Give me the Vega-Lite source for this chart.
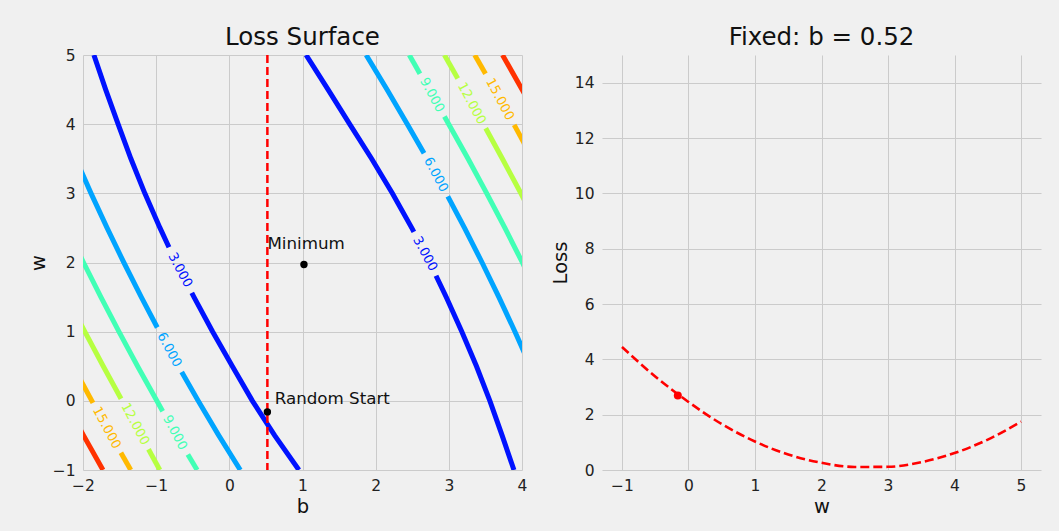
{
  "$schema": "https://vega.github.io/schema/vega-lite/v6.json",
  "background": "#f0f0f0",
  "padding": {"left": 28, "top": 24, "right": 20, "bottom": 16},
  "config": {
    "font": "DejaVu Sans",
    "view": {"stroke": null, "fill": "#f0f0f0"},
    "axis": {
      "grid": true, "gridColor": "#cbcbcb", "gridWidth": 1, "domain": false, "ticks": false,
      "labelFontSize": 15.5, "labelColor": "#222222", "labelPadding": 8, "labelFlush": false,
      "titleFontSize": 19.5, "titleFontWeight": "normal", "titleColor": "#111111", "titlePadding": 4
    },
    "title": {"fontSize": 24.5, "fontWeight": "normal", "color": "#111111"},
    "concat": {"spacing": 23}
  },
  "datasets": {
    "contours": [
      {"level": 3, "seg": "3a", "w": 5, "b": -1.851}, {"level": 3, "seg": "3a", "w": 4.5, "b": -1.690}, {"level": 3, "seg": "3a", "w": 4, "b": -1.520}, {"level": 3, "seg": "3a", "w": 3.5, "b": -1.345}, {"level": 3, "seg": "3a", "w": 3, "b": -1.155}, {"level": 3, "seg": "3a", "w": 2.5, "b": -0.948}, {"level": 3, "seg": "3a", "w": 2.22, "b": -0.825},
      {"level": 3, "seg": "3b", "w": 1.56, "b": -0.513}, {"level": 3, "seg": "3b", "w": 1.5, "b": -0.483}, {"level": 3, "seg": "3b", "w": 1, "b": -0.228}, {"level": 3, "seg": "3b", "w": 0.5, "b": 0.041}, {"level": 3, "seg": "3b", "w": 0, "b": 0.315}, {"level": 3, "seg": "3b", "w": -0.5, "b": 0.619}, {"level": 3, "seg": "3b", "w": -1, "b": 0.951},
      {"level": 3, "seg": "3c", "w": 5, "b": 1.049}, {"level": 3, "seg": "3c", "w": 4.5, "b": 1.350}, {"level": 3, "seg": "3c", "w": 4, "b": 1.645}, {"level": 3, "seg": "3c", "w": 3.5, "b": 1.945}, {"level": 3, "seg": "3c", "w": 3, "b": 2.228}, {"level": 3, "seg": "3c", "w": 2.5, "b": 2.493}, {"level": 3, "seg": "3c", "w": 2.443, "b": 2.522},
      {"level": 3, "seg": "3d", "w": 1.808, "b": 2.825}, {"level": 3, "seg": "3d", "w": 1.5, "b": 2.964}, {"level": 3, "seg": "3d", "w": 1, "b": 3.178}, {"level": 3, "seg": "3d", "w": 0.5, "b": 3.378}, {"level": 3, "seg": "3d", "w": 0, "b": 3.561}, {"level": 3, "seg": "3d", "w": -0.5, "b": 3.728}, {"level": 3, "seg": "3d", "w": -1, "b": 3.890},
      {"level": 6, "seg": "6a", "w": 3.5, "b": -2.099}, {"level": 6, "seg": "6a", "w": 3, "b": -1.890}, {"level": 6, "seg": "6a", "w": 2.5, "b": -1.671}, {"level": 6, "seg": "6a", "w": 2, "b": -1.442}, {"level": 6, "seg": "6a", "w": 1.5, "b": -1.203}, {"level": 6, "seg": "6a", "w": 1.06, "b": -0.985},
      {"level": 6, "seg": "6b", "w": 0.416, "b": -0.651}, {"level": 6, "seg": "6b", "w": 0, "b": -0.426}, {"level": 6, "seg": "6b", "w": -0.5, "b": -0.145}, {"level": 6, "seg": "6b", "w": -1, "b": 0.150},
      {"level": 6, "seg": "6c", "w": 5, "b": 1.870}, {"level": 6, "seg": "6c", "w": 4.5, "b": 2.155}, {"level": 6, "seg": "6c", "w": 4, "b": 2.433}, {"level": 6, "seg": "6c", "w": 3.58, "b": 2.661},
      {"level": 6, "seg": "6d", "w": 2.957, "b": 2.986}, {"level": 6, "seg": "6d", "w": 2.5, "b": 3.214}, {"level": 6, "seg": "6d", "w": 2, "b": 3.454}, {"level": 6, "seg": "6d", "w": 1.5, "b": 3.684}, {"level": 6, "seg": "6d", "w": 1, "b": 3.904}, {"level": 6, "seg": "6d", "w": 0.5, "b": 4.114}, {"level": 6, "seg": "6d", "w": 0, "b": 4.314},
      {"level": 9, "seg": "9a", "w": 2.5, "b": -2.223}, {"level": 9, "seg": "9a", "w": 2, "b": -1.993}, {"level": 9, "seg": "9a", "w": 1.5, "b": -1.755}, {"level": 9, "seg": "9a", "w": 1, "b": -1.509}, {"level": 9, "seg": "9a", "w": 0.5, "b": -1.254}, {"level": 9, "seg": "9a", "w": 0, "b": -0.991}, {"level": 9, "seg": "9a", "w": -0.15, "b": -0.911},
      {"level": 9, "seg": "9b", "w": -0.775, "b": -0.567}, {"level": 9, "seg": "9b", "w": -1, "b": -0.440},
      {"level": 9, "seg": "9c", "w": 5, "b": 2.460}, {"level": 9, "seg": "9c", "w": 4.73, "b": 2.605},
      {"level": 9, "seg": "9d", "w": 4.11, "b": 2.940}, {"level": 9, "seg": "9d", "w": 4, "b": 2.999}, {"level": 9, "seg": "9d", "w": 3.5, "b": 3.263}, {"level": 9, "seg": "9d", "w": 3, "b": 3.518}, {"level": 9, "seg": "9d", "w": 2.5, "b": 3.766}, {"level": 9, "seg": "9d", "w": 2, "b": 4.005}, {"level": 9, "seg": "9d", "w": 1.5, "b": 4.236},
      {"level": 12, "seg": "12a", "w": 1.5, "b": -2.219}, {"level": 12, "seg": "12a", "w": 1, "b": -1.975}, {"level": 12, "seg": "12a", "w": 0.5, "b": -1.723}, {"level": 12, "seg": "12a", "w": 0.03, "b": -1.480},
      {"level": 12, "seg": "12b", "w": -0.7, "b": -1.105}, {"level": 12, "seg": "12b", "w": -1, "b": -0.950},
      {"level": 12, "seg": "12c", "w": 5, "b": 2.940}, {"level": 12, "seg": "12c", "w": 4.66, "b": 3.122},
      {"level": 12, "seg": "12d", "w": 3.94, "b": 3.504}, {"level": 12, "seg": "12d", "w": 3.5, "b": 3.732}, {"level": 12, "seg": "12d", "w": 3, "b": 3.985}, {"level": 12, "seg": "12d", "w": 2.5, "b": 4.230},
      {"level": 15, "seg": "15a", "w": 0.5, "b": -2.135}, {"level": 15, "seg": "15a", "w": 0, "b": -1.879}, {"level": 15, "seg": "15a", "w": -0.03, "b": -1.864},
      {"level": 15, "seg": "15b", "w": -0.75, "b": -1.482}, {"level": 15, "seg": "15b", "w": -1, "b": -1.347},
      {"level": 15, "seg": "15c", "w": 5, "b": 3.354}, {"level": 15, "seg": "15c", "w": 4.73, "b": 3.501},
      {"level": 15, "seg": "15d", "w": 3.99, "b": 3.893}, {"level": 15, "seg": "15d", "w": 3.5, "b": 4.145},
      {"level": 18, "seg": "18a", "w": 0, "b": -2.253}, {"level": 18, "seg": "18a", "w": -0.5, "b": -1.993}, {"level": 18, "seg": "18a", "w": -1, "b": -1.727},
      {"level": 18, "seg": "18b", "w": 5, "b": 3.734}, {"level": 18, "seg": "18b", "w": 4.5, "b": 4.001}, {"level": 18, "seg": "18b", "w": 4, "b": 4.262}
    ],
    "contourLabels": [
      {"level": 3, "text": "3.000", "b": -0.672, "w": 1.89},
      {"level": 3, "text": "3.000", "b": 2.676, "w": 2.125},
      {"level": 6, "text": "6.000", "b": -0.820, "w": 0.738},
      {"level": 6, "text": "6.000", "b": 2.825, "w": 3.27},
      {"level": 9, "text": "9.000", "b": 2.771, "w": 4.42},
      {"level": 9, "text": "9.000", "b": -0.742, "w": -0.46},
      {"level": 12, "text": "12.000", "b": 3.313, "w": 4.30},
      {"level": 12, "text": "12.000", "b": -1.287, "w": -0.335},
      {"level": 15, "text": "15.000", "b": 3.699, "w": 4.36},
      {"level": 15, "text": "15.000", "b": -1.675, "w": -0.39}
    ],
    "fixedB": [{"b": 0.52}],
    "points": [
      {"name": "Minimum", "b": 1.02, "w": 1.97},
      {"name": "Random Start", "b": 0.52, "w": -0.16}
    ],
    "annotations": [
      {"text": "Minimum", "b": 0.52, "w": 2.2},
      {"text": "Random Start", "b": 0.62, "w": -0.04}
    ],
    "lossCurve": [
      {"w": -1, "loss": 4.447}, {"w": -0.5, "loss": 3.380}, {"w": 0, "loss": 2.460}, {"w": 0.5, "loss": 1.660},
      {"w": 1, "loss": 1.030}, {"w": 1.5, "loss": 0.560}, {"w": 2, "loss": 0.260}, {"w": 2.5, "loss": 0.110},
      {"w": 3, "loss": 0.115}, {"w": 3.5, "loss": 0.282}, {"w": 4, "loss": 0.612}, {"w": 4.5, "loss": 1.100},
      {"w": 5, "loss": 1.747}
    ],
    "startLoss": [{"w": -0.16, "loss": 2.695}]
  },
  "hconcat": [
    {
      "width": 439,
      "height": 415,
      "title": {"text": "Loss Surface", "offset": -2},
      "encoding": {
        "x": {"field": "b", "type": "quantitative", "scale": {"domain": [-2, 4], "nice": false, "zero": false}, "axis": {"values": [-2, -1, 0, 1, 2, 3, 4], "title": "b"}},
        "y": {"field": "w", "type": "quantitative", "scale": {"domain": [-1, 5], "nice": false, "zero": false}, "axis": {"values": [-1, 0, 1, 2, 3, 4, 5], "title": "w"}}
      },
      "layer": [
        {
          "data": {"name": "contours"},
          "mark": {"type": "line", "strokeWidth": 5, "clip": true, "strokeCap": "butt"},
          "encoding": {
            "detail": {"field": "seg"},
            "order": {"field": "w", "type": "quantitative"},
            "color": {"field": "level", "type": "nominal", "scale": {"domain": [3, 6, 9, 12, 15, 18], "range": ["#0012ff", "#00a4ff", "#41ffb5", "#b6ff41", "#ffb900", "#ff3200"]}, "legend": null}
          }
        },
        {
          "data": {"name": "fixedB"},
          "mark": {"type": "rule", "color": "#ff0000", "strokeWidth": 2.5, "strokeDash": [8, 4]},
          "encoding": {"x": {"field": "b", "type": "quantitative"}, "y": null}
        },
        {
          "data": {"name": "points"},
          "mark": {"type": "point", "filled": true, "color": "#000000", "size": 55, "opacity": 1}
        },
        {
          "data": {"name": "annotations"},
          "mark": {"type": "text", "align": "left", "baseline": "alphabetic", "fontSize": 16.7, "color": "#111111"},
          "encoding": {"text": {"field": "text"}}
        },
        {
          "data": {"name": "contourLabels"},
          "mark": {"type": "text", "align": "center", "baseline": "middle", "fontSize": 13, "angle": 62},
          "encoding": {
            "text": {"field": "text"},
            "color": {"field": "level", "type": "nominal", "legend": null}
          }
        }
      ]
    },
    {
      "width": 439,
      "height": 415,
      "title": {"text": "Fixed: b = 0.52", "offset": 5},
      "encoding": {
        "x": {"field": "w", "type": "quantitative", "scale": {"domain": [-1.3, 5.3], "nice": false, "zero": false}, "axis": {"values": [-1, 0, 1, 2, 3, 4, 5], "title": "w"}},
        "y": {"field": "loss", "type": "quantitative", "scale": {"domain": [0, 15], "nice": false}, "axis": {"values": [0, 2, 4, 6, 8, 10, 12, 14], "title": "Loss"}}
      },
      "layer": [
        {
          "data": {"name": "lossCurve"},
          "mark": {"type": "line", "color": "#ff0000", "strokeWidth": 2.6, "strokeDash": [9, 4], "interpolate": "monotone"}
        },
        {
          "data": {"name": "startLoss"},
          "mark": {"type": "point", "filled": true, "color": "#ff0000", "size": 64, "opacity": 1}
        }
      ]
    }
  ]
}
